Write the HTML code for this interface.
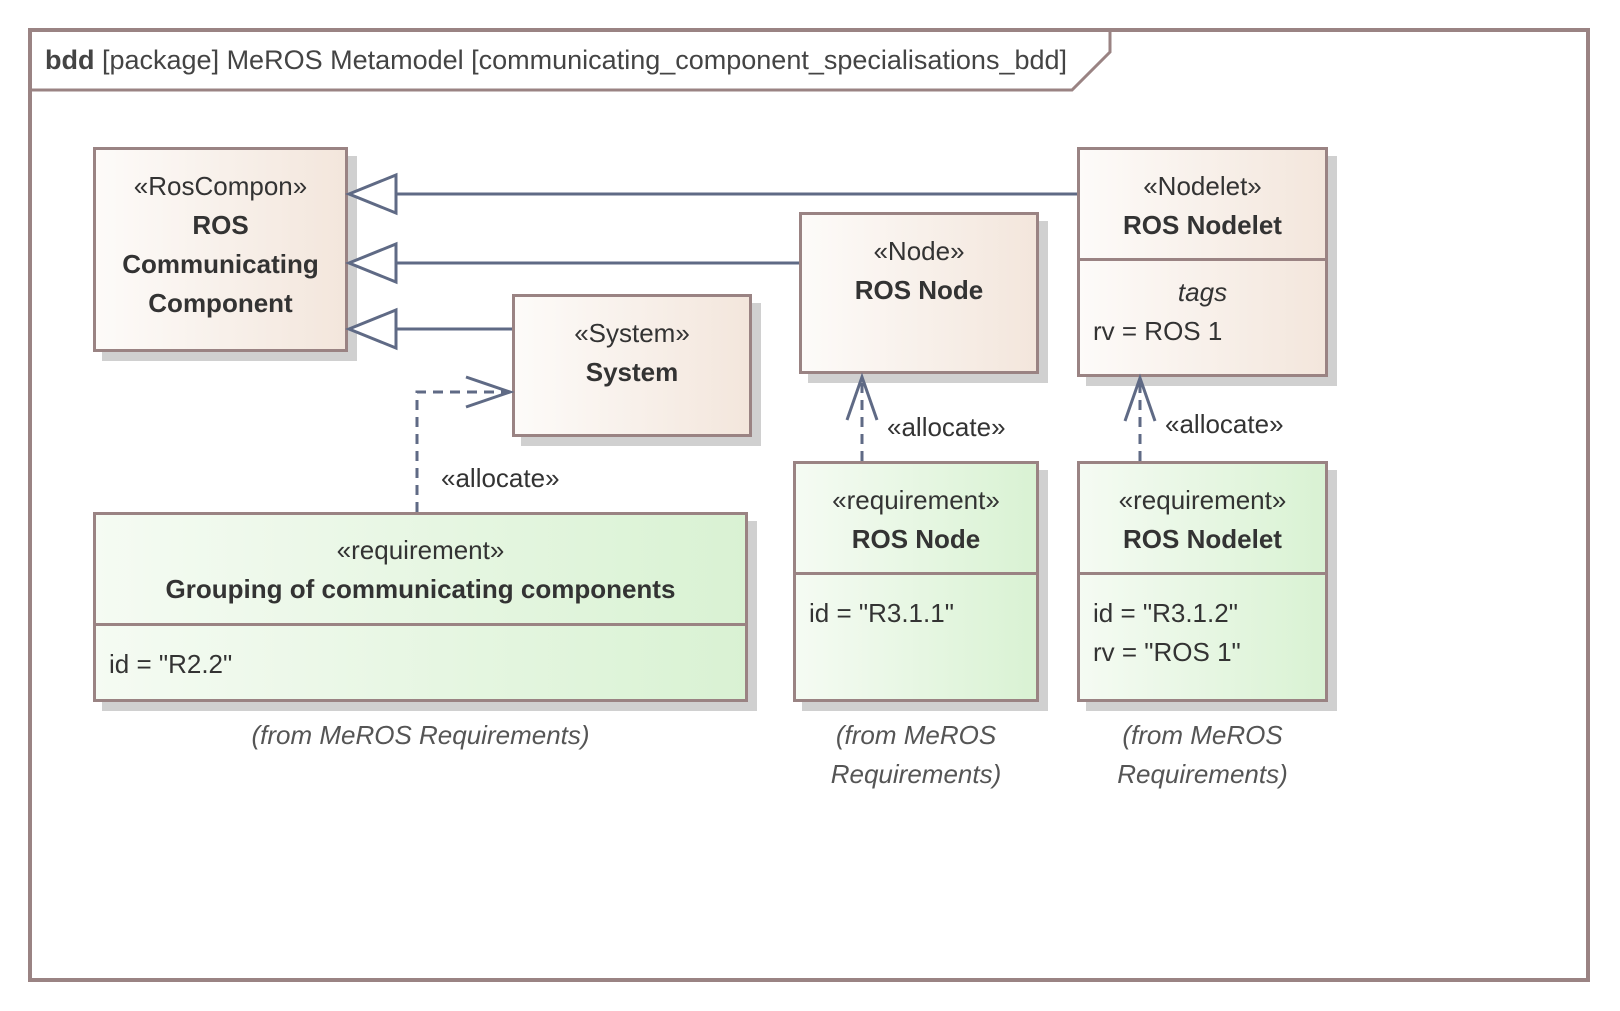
<!DOCTYPE html>
<html><head><meta charset="utf-8"><style>
body{margin:0;width:1620px;height:1011px;background:#fff;position:relative;overflow:hidden;font-family:"Liberation Sans","DejaVu Sans",sans-serif;color:#333}
.b{position:absolute;border:3px solid #9a8383;box-sizing:border-box;box-shadow:9px 9px 0 #d0d0d0}
.tan{background:linear-gradient(to right,#fdfbf9,#f3e6dc)}
.grn{background:linear-gradient(to right,#f5fbf3,#d9f2d3)}
.t{position:absolute;left:0;right:0;text-align:center;font-size:26px;line-height:39px;white-space:nowrap}
.bold{font-weight:bold}
.div{position:absolute;left:0;right:0;border-top:3px solid #9a8383}
.l{position:absolute;font-size:26px;line-height:39px}
.it{font-style:italic}
</style></head><body>
<svg width="1620" height="1011" style="position:absolute;left:0;top:0">
<rect x="30" y="30" width="1558" height="950" fill="none" stroke="#9a8383" stroke-width="4"/>
<polyline points="30,90 1072,90 1110,52 1110,30" fill="none" stroke="#9a8383" stroke-width="3"/>
</svg>
<div style="position:absolute;left:45px;top:40px;font-size:27px;line-height:40px;color:#444;white-space:nowrap"><b>bdd</b> [package] MeROS Metamodel [communicating_component_specialisations_bdd]</div>

<div class="b tan" style="left:93px;top:147px;width:255px;height:205px">
<div class="t" style="top:17px">«RosCompon»</div>
<div class="t bold" style="top:56px">ROS</div>
<div class="t bold" style="top:95px">Communicating</div>
<div class="t bold" style="top:134px">Component</div>
</div>
<div class="b tan" style="left:1077px;top:147px;width:251px;height:230px">
<div class="t" style="top:17px">«Nodelet»</div>
<div class="t bold" style="top:56px">ROS Nodelet</div>
<div class="div" style="top:108px"></div>
<div class="t it" style="top:123px">tags</div>
<div class="l" style="left:13px;top:162px">rv = ROS 1</div>
</div>
<div class="b tan" style="left:799px;top:212px;width:240px;height:162px">
<div class="t" style="top:17px">«Node»</div>
<div class="t bold" style="top:56px">ROS Node</div>
</div>
<div class="b tan" style="left:512px;top:294px;width:240px;height:143px">
<div class="t" style="top:17px">«System»</div>
<div class="t bold" style="top:56px">System</div>
</div>
<div class="b grn" style="left:93px;top:512px;width:655px;height:190px">
<div class="t" style="top:16px">«requirement»</div>
<div class="t bold" style="top:55px">Grouping of communicating components</div>
<div class="div" style="top:108px"></div>
<div class="l" style="left:13px;top:130px">id = "R2.2"</div>
</div>
<div class="b grn" style="left:793px;top:461px;width:246px;height:241px">
<div class="t" style="top:17px">«requirement»</div>
<div class="t bold" style="top:56px">ROS Node</div>
<div class="div" style="top:108px"></div>
<div class="l" style="left:13px;top:130px">id = "R3.1.1"</div>
</div>
<div class="b grn" style="left:1077px;top:461px;width:251px;height:241px">
<div class="t" style="top:17px">«requirement»</div>
<div class="t bold" style="top:56px">ROS Nodelet</div>
<div class="div" style="top:108px"></div>
<div class="l" style="left:13px;top:130px">id = "R3.1.2"</div>
<div class="l" style="left:13px;top:169px">rv = "ROS 1"</div>
</div>

<svg width="1620" height="1011" style="position:absolute;left:0;top:0">
<g stroke="#5f6a85" stroke-width="3" fill="#fff">
<line x1="396" y1="194" x2="1077" y2="194"/>
<line x1="396" y1="263" x2="799" y2="263"/>
<line x1="396" y1="329" x2="512" y2="329"/>
<polygon points="349,194 396,175 396,213"/>
<polygon points="349,263 396,244 396,282"/>
<polygon points="349,329 396,310 396,348"/>
<g fill="none" stroke-dasharray="10,7">
<polyline points="417,512 417,392 510,392"/>
<line x1="862" y1="461" x2="862" y2="378"/>
<line x1="1140" y1="461" x2="1140" y2="380"/>
</g>
<g fill="none">
<polyline points="466,377 510,392 466,407"/>
<polyline points="847,420 862,377 877,420"/>
<polyline points="1125,421 1140,378 1155,421"/>
</g>
</g>
</svg>
<div class="l" style="left:887px;top:408px">«allocate»</div>
<div class="l" style="left:1165px;top:405px">«allocate»</div>
<div class="l" style="left:441px;top:459px">«allocate»</div>
<div class="l it" style="left:93px;width:655px;text-align:center;top:716px;color:#555">(from MeROS Requirements)</div>
<div class="l it" style="left:793px;width:246px;text-align:center;top:716px;color:#555">(from MeROS<br>Requirements)</div>
<div class="l it" style="left:1077px;width:251px;text-align:center;top:716px;color:#555">(from MeROS<br>Requirements)</div>
</body></html>
